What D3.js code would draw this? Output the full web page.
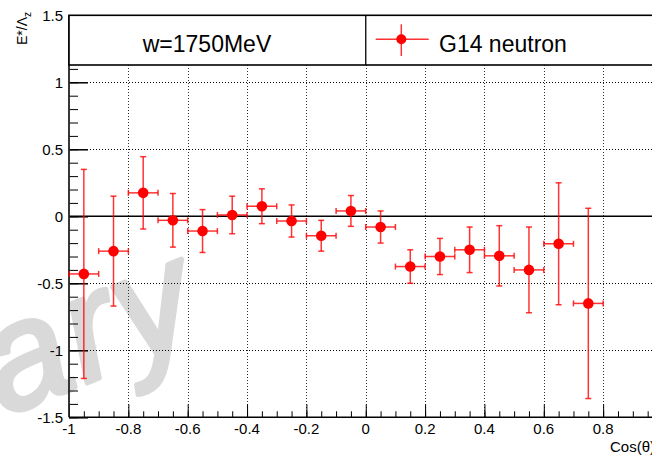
<!DOCTYPE html>
<html>
<head>
<meta charset="utf-8">
<script src="https://cdn.jsdelivr.net/npm/d3@7"></script>
<style>
  body { margin: 0; background: #fff; }
  svg { display: block; font-family: "Liberation Sans", Arial, sans-serif; }
</style>
</head>
<body>
<svg id="chart" width="652" height="456"></svg>
<script>
// bin centres in cos(theta)
var cosTheta = [-0.95, -0.85, -0.75, -0.65, -0.55, -0.45, -0.35, -0.25, -0.15,
                -0.05, 0.05, 0.15, 0.25, 0.35, 0.45, 0.55, 0.65, 0.75];
// E / Lambda_z values and errors
var values = [-0.43, -0.26, 0.175, -0.03, -0.11, 0.01, 0.075, -0.035, -0.145,
              0.04, -0.08, -0.375, -0.30, -0.25, -0.295, -0.40, -0.205, -0.65];
var errors = [0.78, 0.41, 0.27, 0.20, 0.16, 0.14, 0.13, 0.12, 0.115,
              0.115, 0.12, 0.125, 0.135, 0.17, 0.225, 0.32, 0.455, 0.71];
var binHalf = 0.05;

var xMajor = [-1, -0.8, -0.6, -0.4, -0.2, 0, 0.2, 0.4, 0.6, 0.8];
var yMajor = [-1.5, -1, -0.5, 0, 0.5, 1, 1.5];
var yGrid = [-1, -0.5, 0.5, 1];
var xGrid = [-0.8, -0.6, -0.4, -0.2, 0, 0.2, 0.4, 0.6, 0.8];

var legendTitle = "w=1750MeV";
var seriesName = "G14 neutron";

var W = 652, H = 456;
var svg = d3.select("#chart");

var x = d3.scaleLinear().domain([-1, 1]).range([69, 662.5]);
var y = d3.scaleLinear().domain([-1.5, 1.5]).range([417.3, 15.3]);

var legBottom = 65;

// watermark
svg.append("text")
    .attr("transform", "translate(208,334) rotate(-22)")
    .attr("text-anchor", "end")
    .attr("font-size", 150).attr("font-style", "italic")
    .attr("letter-spacing", 4)
    .attr("fill", "#d9d9d9").attr("stroke", "#d9d9d9")
    .attr("stroke-width", 5).attr("stroke-linejoin", "round")
    .text("Preliminary");

// grid
svg.append("g").selectAll("line").data(yGrid).enter().append("line")
    .attr("x1", x(-1)).attr("x2", W)
    .attr("y1", d => Math.round(y(d)) + 0.5).attr("y2", d => Math.round(y(d)) + 0.5)
    .attr("stroke", "#000").attr("stroke-dasharray", "1,2");
svg.append("g").selectAll("line").data(xGrid).enter().append("line")
    .attr("x1", d => Math.round(x(d)) + 0.5).attr("x2", d => Math.round(x(d)) + 0.5)
    .attr("y1", legBottom).attr("y2", y(-1.5))
    .attr("stroke", "#333").attr("stroke-dasharray", "1,2");

// zero line
svg.append("line")
    .attr("x1", x(-1)).attr("x2", W)
    .attr("y1", y(0)).attr("y2", y(0))
    .attr("stroke", "#000").attr("stroke-width", 1.6);

// x axis
var xAxis = d3.axisTop(x).tickValues(d3.range(-1, 1.001, 0.05))
    .tickSize(6).tickFormat("");
svg.append("g").attr("transform", "translate(0," + y(-1.5) + ")").call(xAxis)
    .call(g => g.select(".domain").remove())
    .selectAll("line").attr("stroke", "#000");
svg.append("g").attr("transform", "translate(0," + y(-1.5) + ")")
    .call(d3.axisTop(x).tickValues(xMajor).tickSize(13).tickFormat(""))
    .call(g => g.select(".domain").remove())
    .selectAll("line").attr("stroke", "#000");
svg.append("line")
    .attr("x1", x(-1)).attr("x2", W).attr("y1", y(-1.5)).attr("y2", y(-1.5))
    .attr("stroke", "#000").attr("stroke-width", 1.5);
svg.append("g").selectAll("text").data(xMajor).enter().append("text")
    .attr("x", d => x(d)).attr("y", 434)
    .attr("text-anchor", "middle").attr("font-size", 15)
    .text(d => d3.format("")(d).replace("\u2212", "-"));

// y axis
svg.append("g").attr("transform", "translate(" + x(-1) + ",0)")
    .call(d3.axisRight(y).tickValues(d3.range(-1.5, 1.501, 0.1)).tickSize(9).tickFormat(""))
    .call(g => g.select(".domain").remove())
    .selectAll("line").attr("stroke", "#000");
svg.append("g").attr("transform", "translate(" + x(-1) + ",0)")
    .call(d3.axisRight(y).tickValues(yMajor).tickSize(19).tickFormat(""))
    .call(g => g.select(".domain").remove())
    .selectAll("line").attr("stroke", "#000").attr("stroke-width", 1.5);
svg.append("line")
    .attr("x1", x(-1)).attr("x2", x(-1)).attr("y1", y(1.5)).attr("y2", y(-1.5))
    .attr("stroke", "#222").attr("stroke-width", 1.8);
svg.append("g").selectAll("text").data(yMajor).enter().append("text")
    .attr("x", 63).attr("y", d => y(d) + 5.3)
    .attr("text-anchor", "end").attr("font-size", 15)
    .text(d => String(d));

// axis titles
var yt = svg.append("text")
    .attr("transform", "translate(27,12) rotate(-90)")
    .attr("text-anchor", "end").attr("font-size", 14);
yt.append("tspan").text("E*/\u039B");
yt.append("tspan").attr("font-size", 10).attr("dy", 4).text("z");
svg.append("text").attr("x", 610).attr("y", 452)
    .attr("font-size", 15).text("Cos(\u03B8)");

// data
var pts = cosTheta.map((c, i) => ({ x: c, v: values[i], e: errors[i] }));
var red = "#ff0000", cap = 3;
var g = svg.append("g").attr("stroke", red).attr("stroke-width", 1.5)
    .attr("stroke-opacity", 0.8);
pts.forEach(function(d) {
    var cx = x(d.x), cy = y(d.v);
    var x0 = x(d.x - binHalf), x1 = x(d.x + binHalf);
    var y0 = y(d.v + d.e), y1 = y(d.v - d.e);
    g.append("line").attr("x1", x0).attr("x2", x1).attr("y1", cy).attr("y2", cy);
    g.append("line").attr("x1", cx).attr("x2", cx).attr("y1", y0).attr("y2", y1);
    g.append("line").attr("x1", x0).attr("x2", x0).attr("y1", cy - cap).attr("y2", cy + cap);
    g.append("line").attr("x1", x1).attr("x2", x1).attr("y1", cy - cap).attr("y2", cy + cap);
    g.append("line").attr("x1", cx - cap).attr("x2", cx + cap).attr("y1", y0).attr("y2", y0);
    g.append("line").attr("x1", cx - cap).attr("x2", cx + cap).attr("y1", y1).attr("y2", y1);
});
svg.append("g").selectAll("circle").data(pts).enter().append("circle")
    .attr("cx", d => x(d.x)).attr("cy", d => y(d.v)).attr("r", 5.3)
    .attr("fill", red);

// legend boxes
var mid = x(0);
svg.append("rect").attr("x", x(-1)).attr("y", y(1.5))
    .attr("width", W + 20 - x(-1)).attr("height", legBottom - y(1.5))
    .attr("fill", "#fff").attr("stroke", "#000").attr("stroke-width", 1.6);
svg.append("line").attr("x1", mid).attr("x2", mid)
    .attr("y1", y(1.5)).attr("y2", legBottom).attr("stroke", "#000").attr("stroke-width", 1.3);
svg.append("text").attr("x", 207).attr("y", 51.5)
    .attr("text-anchor", "middle").attr("font-size", 23).text(legendTitle);
var lg = svg.append("g").attr("stroke", red).attr("stroke-width", 1.5).attr("stroke-opacity", 0.8);
lg.append("line").attr("x1", 375.7).attr("x2", 428.7).attr("y1", 39.3).attr("y2", 39.3);
lg.append("line").attr("x1", 401.3).attr("x2", 401.3).attr("y1", 24.3).attr("y2", 56);
svg.append("circle").attr("cx", 401.3).attr("cy", 39.3).attr("r", 5).attr("fill", red);
svg.append("text").attr("x", 439).attr("y", 51.5)
    .attr("font-size", 23).text(seriesName);
</script>
</body>
</html>
